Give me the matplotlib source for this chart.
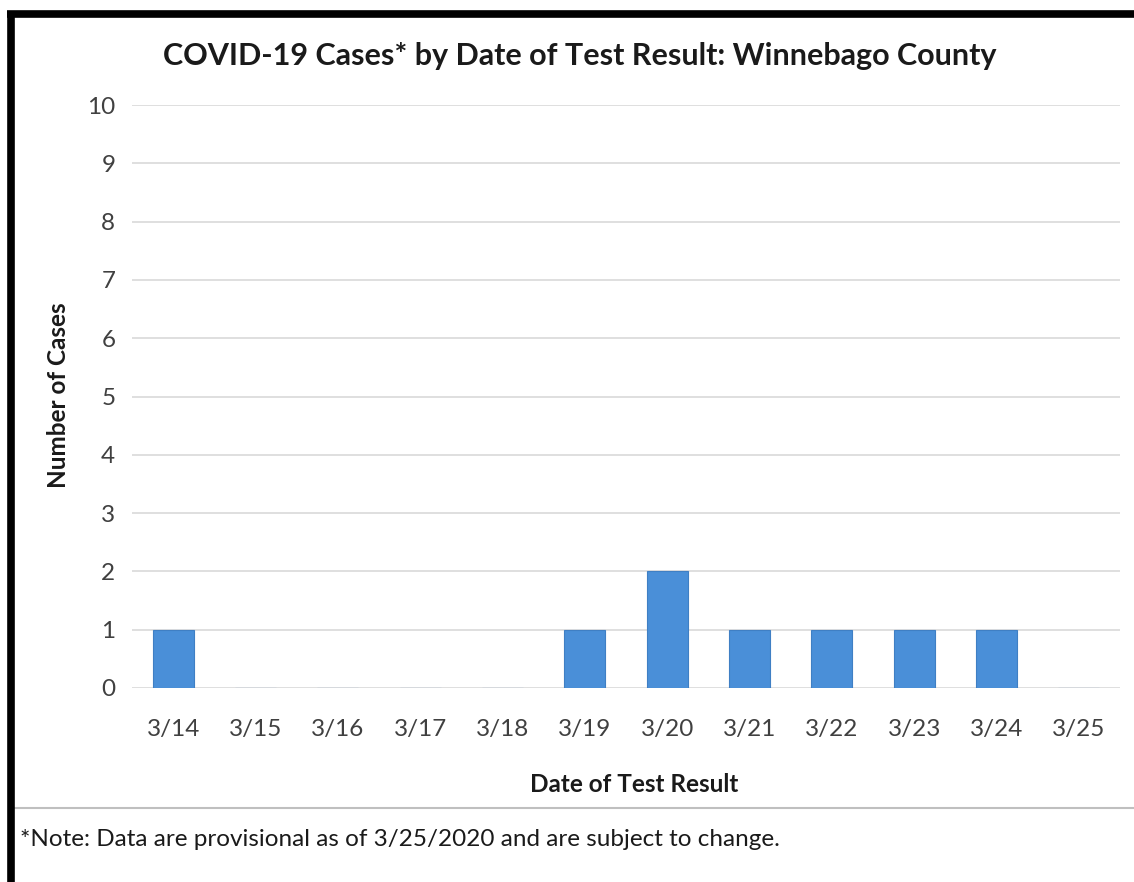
import matplotlib
matplotlib.use("Agg")
import matplotlib.pyplot as plt
from matplotlib.lines import Line2D

dates = ["3/14", "3/15", "3/16", "3/17", "3/18", "3/19", "3/20", "3/21", "3/22", "3/23", "3/24", "3/25"]
cases = [1, 0, 0, 0, 0, 1, 2, 1, 1, 1, 1, 0]
yticks = list(range(0, 11))

plt.rcParams['font.family'] = ['Lato', 'DejaVu Sans']

W, H = 1134, 882
fig = plt.figure(figsize=(W / 100, H / 100), dpi=100)
fig.patch.set_facecolor('white')

ax = fig.add_axes([132 / W, 1 - 688 / H, (1120 - 132) / W, (688 - 105) / H])
x = list(range(len(dates)))
ax.bar(x, cases, width=0.5, color='#4a8fd8', edgecolor='#3f7fc4', linewidth=0.8, zorder=3)
ax.set_xlim(-0.5, len(dates) - 0.5)
ax.set_ylim(0, 10)
ax.set_yticks(yticks)
ax.set_xticks(x)
ax.set_xticklabels(dates)
ax.yaxis.grid(True, color='#d9d9d9', linewidth=1.2, zorder=0)
ax.set_axisbelow(True)
for s in ax.spines.values():
    s.set_visible(False)
ax.tick_params(axis='both', length=0, labelsize=17.5, colors='#404040')
ax.tick_params(axis='x', pad=22)
ax.tick_params(axis='y', pad=12)
for lbl in ax.get_xticklabels() + ax.get_yticklabels():
    lbl.set_color('#404040')

fig.text(580 / W, 1 - 56 / H, "COVID-19 Cases* by Date of Test Result: Winnebago County",
         ha='center', va='center', fontsize=22, fontweight='bold', color='#1a1a1a')
fig.text(58 / W, 1 - 395 / H, "Number of Cases", rotation=90, ha='center', va='center',
         fontsize=17.5, fontweight='bold', color='#1a1a1a')
fig.text(634 / W, 1 - 784 / H, "Date of Test Result", ha='center', va='center',
         fontsize=17.5, fontweight='bold', color='#1a1a1a')
fig.text(20 / W, 1 - 839 / H, "*Note: Data are provisional as of 3/25/2020 and are subject to change.",
         ha='left', va='center', fontsize=17.5, color='#1a1a1a')

# separator line
fig.add_artist(Line2D([14 / W, 1.0], [1 - 808 / H, 1 - 808 / H], color='#bfbfbf', linewidth=1.5,
                      transform=fig.transFigure))
# thick black frame (top and left)
fig.add_artist(Line2D([7 / W, 1.0], [1 - 14 / H, 1 - 14 / H], color='black', linewidth=5.5,
                      transform=fig.transFigure, solid_capstyle='butt'))
fig.add_artist(Line2D([10.5 / W, 10.5 / W], [1 - 11 / H, 0], color='black', linewidth=5.5,
                      transform=fig.transFigure, solid_capstyle='butt'))

fig.savefig("out.png", dpi=100, facecolor='white')
